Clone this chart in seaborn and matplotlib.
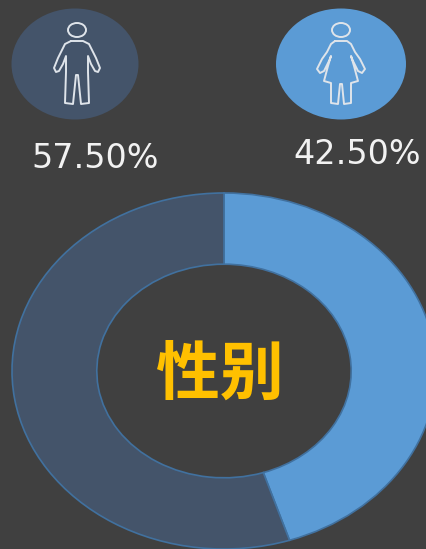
import numpy as np
import matplotlib
matplotlib.use("Agg")
import matplotlib.pyplot as plt
from matplotlib.patches import Ellipse
import seaborn as sns

categories = ["女", "男"]
ring_shares = [45.0, 55.0]
percent_labels = ["42.50%", "57.50%"]
title_text = "性别"

BG = "#404040"
sns.set_theme(style="white")
plt.rcParams["font.family"] = ["Noto Sans CJK SC", "DejaVu Sans"]
colors = sns.color_palette(["#5B9BD5", "#44546A"])

W, H = 426, 549
fig = plt.figure(figsize=(W / 100, H / 100), dpi=100, facecolor=BG)

# donut: a circular pie squashed into an ellipse
cx, cy, rx, ry = 224, 371, 212, 178
ax = fig.add_axes([(cx - rx) / W, 1 - (cy + ry) / H, 2 * rx / W, 2 * ry / H])
ax.pie(ring_shares, colors=colors, startangle=90, counterclock=False, radius=1,
       wedgeprops=dict(width=0.4, edgecolor="#41719F", linewidth=1.2))
ax.set_xlim(-1, 1)
ax.set_ylim(-1, 1)
ax.set_aspect("auto")
ax.patch.set_alpha(0)

ov2 = fig.add_axes([0, 0, 1, 1])
ov2.patch.set_alpha(0)
ov2.set_xlim(0, W)
ov2.set_ylim(H, 0)
ov2.axis("off")

ov2.add_patch(Ellipse((75, 64), 127, 111, fc=colors[1], ec="none"))
ov2.add_patch(Ellipse((341, 64), 130, 111, fc=colors[0], ec="none"))

ICON = "#DFE4EA"


def draw_line(pts, dx):
    p = [(a + dx, b) for a, b in pts]
    p = p + [p[0]]
    ov2.plot([a[0] for a in p], [a[1] for a in p], color=ICON, lw=1.4,
             solid_joinstyle="round", solid_capstyle="round")


def head(x):
    ov2.add_patch(Ellipse((x, 30), 18, 14, fc="none", ec=ICON, lw=1.4))


# man
mx = 77
head(mx)
man = [(-6, 41), (6, 41), (12, 44), (15, 50), (19, 58), (23, 68), (21, 72), (18, 71),
       (14, 64), (11, 56), (11, 72), (12, 103), (4, 104), (1, 75), (-1, 75), (-4, 104),
       (-12, 103), (-11, 72), (-11, 56), (-14, 64), (-18, 71), (-21, 72), (-23, 68),
       (-19, 58), (-15, 50), (-12, 44)]
draw_line(man, mx)

# woman
wx = 341
head(wx)
woman = [(-6, 41), (6, 41), (10, 44), (14, 52), (19, 59), (24, 69), (21, 73), (17, 71),
         (12, 61), (10, 56), (13, 66), (17, 81), (10, 83), (10, 103), (3, 104), (1, 84),
         (-1, 84), (-3, 104), (-10, 103), (-10, 83), (-17, 81), (-13, 66), (-10, 56),
         (-12, 61), (-17, 71), (-21, 73), (-24, 69), (-19, 59), (-14, 52), (-10, 44)]
draw_line(woman, wx)

ov2.text(95.5, 158.5, percent_labels[1], color="#F2F2F2", fontsize=24, ha="center", va="center",
         family="DejaVu Sans")
ov2.text(357, 154.5, percent_labels[0], color="#F2F2F2", fontsize=24, ha="center", va="center",
         family="DejaVu Sans")
ov2.text(220, 375, title_text, color="#FFC000", fontsize=46, fontweight="bold",
         ha="center", va="center", family=["Noto Sans CJK SC", "DejaVu Sans"])

fig.savefig("out.png", dpi=100, facecolor=BG)
